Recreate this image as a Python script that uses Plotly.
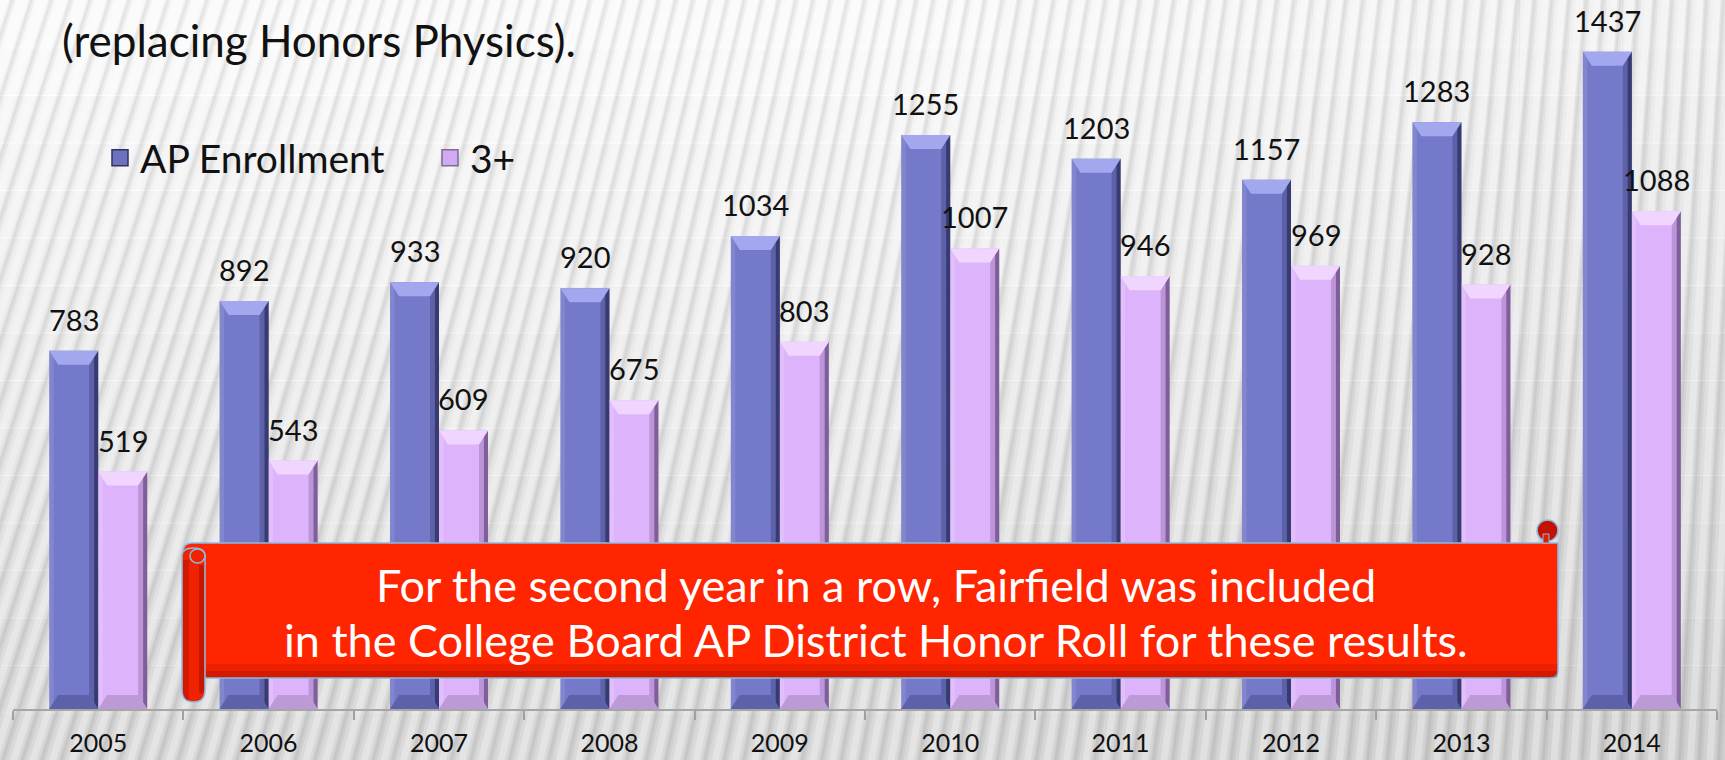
import plotly.graph_objects as go

# ---------------- data ----------------
years = ['2005', '2006', '2007', '2008', '2009', '2010', '2011', '2012', '2013', '2014']
ap_enrollment = [783, 892, 933, 920, 1034, 1255, 1203, 1157, 1283, 1437]
score_3plus = [519, 543, 609, 675, 803, 1007, 946, 969, 928, 1088]
series_names = ['AP Enrollment', '3+']
header_text = '(replacing Honors Physics).'
banner_lines = ['For the second year in a row, Fairfield was included',
                'in the College Board AP District Honor Roll for these results.']

# ---------------- geometry / style ----------------
W, H = 1725, 760
ML, MR, MT, MB = 13, 8, 0, 51
PW = W - ML - MR
PH = H - MT - MB
YMAX = 1550
FONT = 'Lato'

BAR_W = 0.2875                     # width of one bar in category units
PX_X = PW / len(years)             # pixels per category
PX_Y = PH / YMAX                   # pixels per value unit
BEV_X = 9 / PX_X                   # bevel inset (category units)
BEV_Y = 14 / PX_Y                  # bevel height (value units)

AP_COL = dict(body='#7479c9', top='#a2a7ee', bot='#5d61a9', side='rgba(25,27,70,0.55)', side2='rgba(25,27,70,0.25)', left='rgba(255,255,255,0.10)')
P3_COL = dict(body='#ddb4fb', top='#f0d6ff', bot='#bc9ad6', side='rgba(70,40,90,0.50)', side2='rgba(70,40,90,0.22)', left='rgba(255,255,255,0.15)')


def px(X):
    return (X - ML) / PW


def py(Y):
    return (H - MB - Y) / PH


def ppath(ops):
    """ops in pixel coords -> paper path"""
    out = []
    for op in ops:
        if op[0] in ('M', 'L'):
            out.append(f"{op[0]} {px(op[1]):.5f},{py(op[2]):.5f}")
        elif op[0] == 'Q':
            out.append(f"Q {px(op[1]):.5f},{py(op[2]):.5f} {px(op[3]):.5f},{py(op[4]):.5f}")
        else:
            out.append('Z')
    return ' '.join(out)


def dpath(pts):
    return 'M ' + ' L '.join(f"{x:.5f},{y:.3f}" for x, y in pts) + ' Z'


shapes = []

# ---------------- background: gradient bands + slanted stripes ----------------
NB = 16
for j in range(NB):
    y0 = j * H / NB
    y1 = (j + 1) * H / NB + 1
    op = 0.88 - 0.72 * (j / (NB - 1))
    shapes.append(dict(type='path', xref='paper', yref='paper', layer='below',
                       path=ppath([('M', -5, y0), ('L', W + 5, y0), ('L', W + 5, y1), ('L', -5, y1), ('Z',)]),
                       fillcolor=f'rgba(255,255,255,{op:.3f})', line=dict(width=0)))
NV = 8
for j in range(NV):
    x0 = 900 + j * (W - 900) / NV
    x1 = 900 + (j + 1) * (W - 900) / NV + 1
    op = 0.04 * (j + 1) / NV
    shapes.append(dict(type='path', xref='paper', yref='paper', layer='below',
                       path=ppath([('M', x0, 0), ('L', x1, 0), ('L', x1, H), ('L', x0, H), ('Z',)]),
                       fillcolor=f'rgba(0,0,0,{op:.3f})', line=dict(width=0)))
for k in range(-16, 92):
    xb = k * 19.5
    t = 0.32 - 0.27 * max(0.0, min(1.0, xb / W))
    xt = xb + t * H
    shapes.append(dict(type='path', xref='paper', yref='paper', layer='below',
                       path=ppath([('M', xb, H), ('L', xb + 4, H), ('L', xt + 4, 0), ('L', xt, 0), ('Z',)]),
                       fillcolor='rgba(0,0,0,0.045)', line=dict(width=0)))
    shapes.append(dict(type='path', xref='paper', yref='paper', layer='below',
                       path=ppath([('M', xb + 1.5, H), ('L', xb + 6.5, H), ('L', xt + 6.5, 0), ('L', xt + 1.5, 0), ('Z',)]),
                       fillcolor='rgba(0,0,0,0.045)', line=dict(width=0)))
    shapes.append(dict(type='path', xref='paper', yref='paper', layer='below',
                       path=ppath([('M', xb + 10, H), ('L', xb + 17, H), ('L', xt + 17, 0), ('L', xt + 10, 0), ('Z',)]),
                       fillcolor='rgba(255,255,255,0.30)', line=dict(width=0)))

# ---------------- bar bevels (derived from the data arrays) ----------------
for vals, off, col in ((ap_enrollment, -BAR_W, AP_COL), (score_3plus, 0.0, P3_COL)):
    for i, v in enumerate(vals):
        x0 = i + off
        x1 = x0 + BAR_W
        top = [(x0, v), (x1, v), (x1 - BEV_X, v - BEV_Y), (x0 + BEV_X, v - BEV_Y)]
        bot = [(x0, 0), (x1, 0), (x1 - BEV_X, BEV_Y), (x0 + BEV_X, BEV_Y)]
        right = [(x1, v), (x1, 0), (x1 - BEV_X, BEV_Y), (x1 - BEV_X, v - BEV_Y)]
        right2 = [(x1, v), (x1, 0), (x1 - BEV_X * 0.45, BEV_Y * 0.45), (x1 - BEV_X * 0.45, v - BEV_Y * 0.45)]
        left = [(x0, v), (x0, 0), (x0 + BEV_X * 0.5, BEV_Y * 0.5), (x0 + BEV_X * 0.5, v - BEV_Y * 0.5)]
        for pts, fc in ((left, col['left']), (right, col['side2']), (right2, col['side']), (top, col['top']), (bot, col['bot'])):
            shapes.append(dict(type='path', xref='x', yref='y', layer='above', path=dpath(pts),
                               fillcolor=fc, line=dict(width=0)))

# ---------------- red scroll banner ----------------
OUT = '#8cbbe2'
RED = '#ff2500'
shapes.append(dict(type='path', xref='paper', yref='paper', layer='above',
                   path=ppath([('M', 183, 552), ('Q', 183, 543, 192, 543), ('L', 1558, 543), ('L', 1558, 670),
                               ('Q', 1558, 678, 1550, 678), ('L', 192, 678), ('Z',)]),
                   fillcolor=RED, line=dict(color=OUT, width=1.5)))
for ya, yb, op in ((664, 671, 0.12), (671, 677.3, 0.30)):
    shapes.append(dict(type='path', xref='paper', yref='paper', layer='above',
                       path=ppath([('M', 205, ya), ('L', 1557.3, ya), ('L', 1557.3, yb), ('L', 205, yb), ('Z',)]),
                       fillcolor=f'rgba(110,0,0,{op})', line=dict(width=0)))
shapes.append(dict(type='path', xref='paper', yref='paper', layer='above',
                   path=ppath([('M', 182, 556), ('L', 182, 690), ('Q', 182, 702, 193.5, 702), ('Q', 205, 702, 205, 690),
                               ('L', 205, 556), ('Q', 205, 548, 193.5, 548), ('Q', 182, 548, 182, 556), ('Z',)]),
                   fillcolor='#f02200', line=dict(color=OUT, width=1.5)))
shapes.append(dict(type='path', xref='paper', yref='paper', layer='above',
                   path=ppath([('M', 183, 560), ('L', 183, 690), ('Q', 183, 700, 189, 700), ('L', 189, 560), ('Z',)]),
                   fillcolor='rgba(120,0,0,0.25)', line=dict(width=0)))
shapes.append(dict(type='path', xref='paper', yref='paper', layer='above',
                   path=ppath([('M', 199, 565), ('L', 199, 692), ('Q', 202, 696, 204, 690), ('L', 204, 565), ('Z',)]),
                   fillcolor='rgba(120,0,0,0.35)', line=dict(width=0)))
shapes.append(dict(type='circle', xref='paper', yref='paper', layer='above',
                   x0=px(190), x1=px(205), y0=py(563), y1=py(549),
                   fillcolor='rgba(0,0,0,0)', line=dict(color=OUT, width=1.5)))
shapes.append(dict(type='circle', xref='paper', yref='paper', layer='above',
                   x0=px(1537), x1=px(1558), y0=py(541), y1=py(520),
                   fillcolor='#c41200', line=dict(color=OUT, width=1.5)))
shapes.append(dict(type='path', xref='paper', yref='paper', layer='above',
                   path=ppath([('M', 1543, 534), ('L', 1549, 534), ('L', 1549, 543), ('L', 1543, 543), ('Z',)]),
                   fillcolor='#e01e00', line=dict(color=OUT, width=1)))

# ---------------- traces ----------------
fig = go.Figure()
fig.add_trace(go.Bar(x=years, y=ap_enrollment, name=series_names[0], offset=-BAR_W, width=BAR_W,
                     marker=dict(color=AP_COL['body'], line=dict(width=0)), showlegend=False, hoverinfo='x+y+name'))
fig.add_trace(go.Bar(x=years, y=score_3plus, name=series_names[1], offset=0, width=BAR_W,
                     marker=dict(color=P3_COL['body'], line=dict(width=0)), showlegend=False, hoverinfo='x+y+name'))
fig.add_trace(go.Scatter(x=[None], y=[None], mode='markers', name=series_names[0],
                         marker=dict(symbol='square', size=20, color='#6c71c0', line=dict(color='#30335f', width=1.5))))
fig.add_trace(go.Scatter(x=[None], y=[None], mode='markers', name=series_names[1],
                         marker=dict(symbol='square', size=20, color='#d4a9f4', line=dict(color='#7f6a94', width=1.5))))

annotations = []
for vals, off in ((ap_enrollment, -BAR_W / 2), (score_3plus, BAR_W / 2)):
    for i, v in enumerate(vals):
        annotations.append(dict(x=i + off, y=v, xref='x', yref='y', text=str(v), showarrow=False,
                                yanchor='bottom', xanchor='center', yshift=12,
                                font=dict(family=FONT, size=29, color='#111111')))

annotations.append(dict(x=px(60), y=py(40), xref='paper', yref='paper', text=header_text, showarrow=False,
                        xanchor='left', yanchor='middle', font=dict(family=FONT, size=44, color='#111111')))
for line, base in zip(banner_lines, (600, 655)):
    annotations.append(dict(x=px(876), y=py(base - 15), xref='paper', yref='paper', text=line, showarrow=False,
                            xanchor='center', yanchor='middle', font=dict(family=FONT, size=45, color='white')))

fig.update_layout(
    width=W, height=H,
    margin=dict(l=ML, r=MR, t=MT, b=MB, pad=0, autoexpand=False),
    paper_bgcolor='#d2d2d2', plot_bgcolor='rgba(0,0,0,0)',
    barmode='overlay',
    shapes=shapes, annotations=annotations,
    showlegend=True,
    legend=dict(orientation='h', x=px(100), y=py(158),
                xanchor='left', yanchor='middle', bgcolor='rgba(0,0,0,0)', borderwidth=0,
                font=dict(family=FONT, size=39, color='#111111'), entrywidth=285, entrywidthmode='pixels'),
    xaxis=dict(type='category', categoryorder='array', categoryarray=years, range=[-0.5, len(years) - 0.5],
               tickson='boundaries', ticks='outside', ticklen=9, tickwidth=2, tickcolor='#a0a0a0',
               showline=True, linecolor='#a6a6a6', linewidth=2, showgrid=False, zeroline=False,
               tickfont=dict(family=FONT, size=25, color='#111111'), ticklabelstandoff=11, fixedrange=True),
    yaxis=dict(range=[0, YMAX], visible=False, showgrid=False, zeroline=False, fixedrange=True),
    font=dict(family=FONT),
)

fig.write_html('out.html', config={'displayModeBar': False},
               post_script="document.body.style.margin='0px';document.body.style.overflow='hidden';")
